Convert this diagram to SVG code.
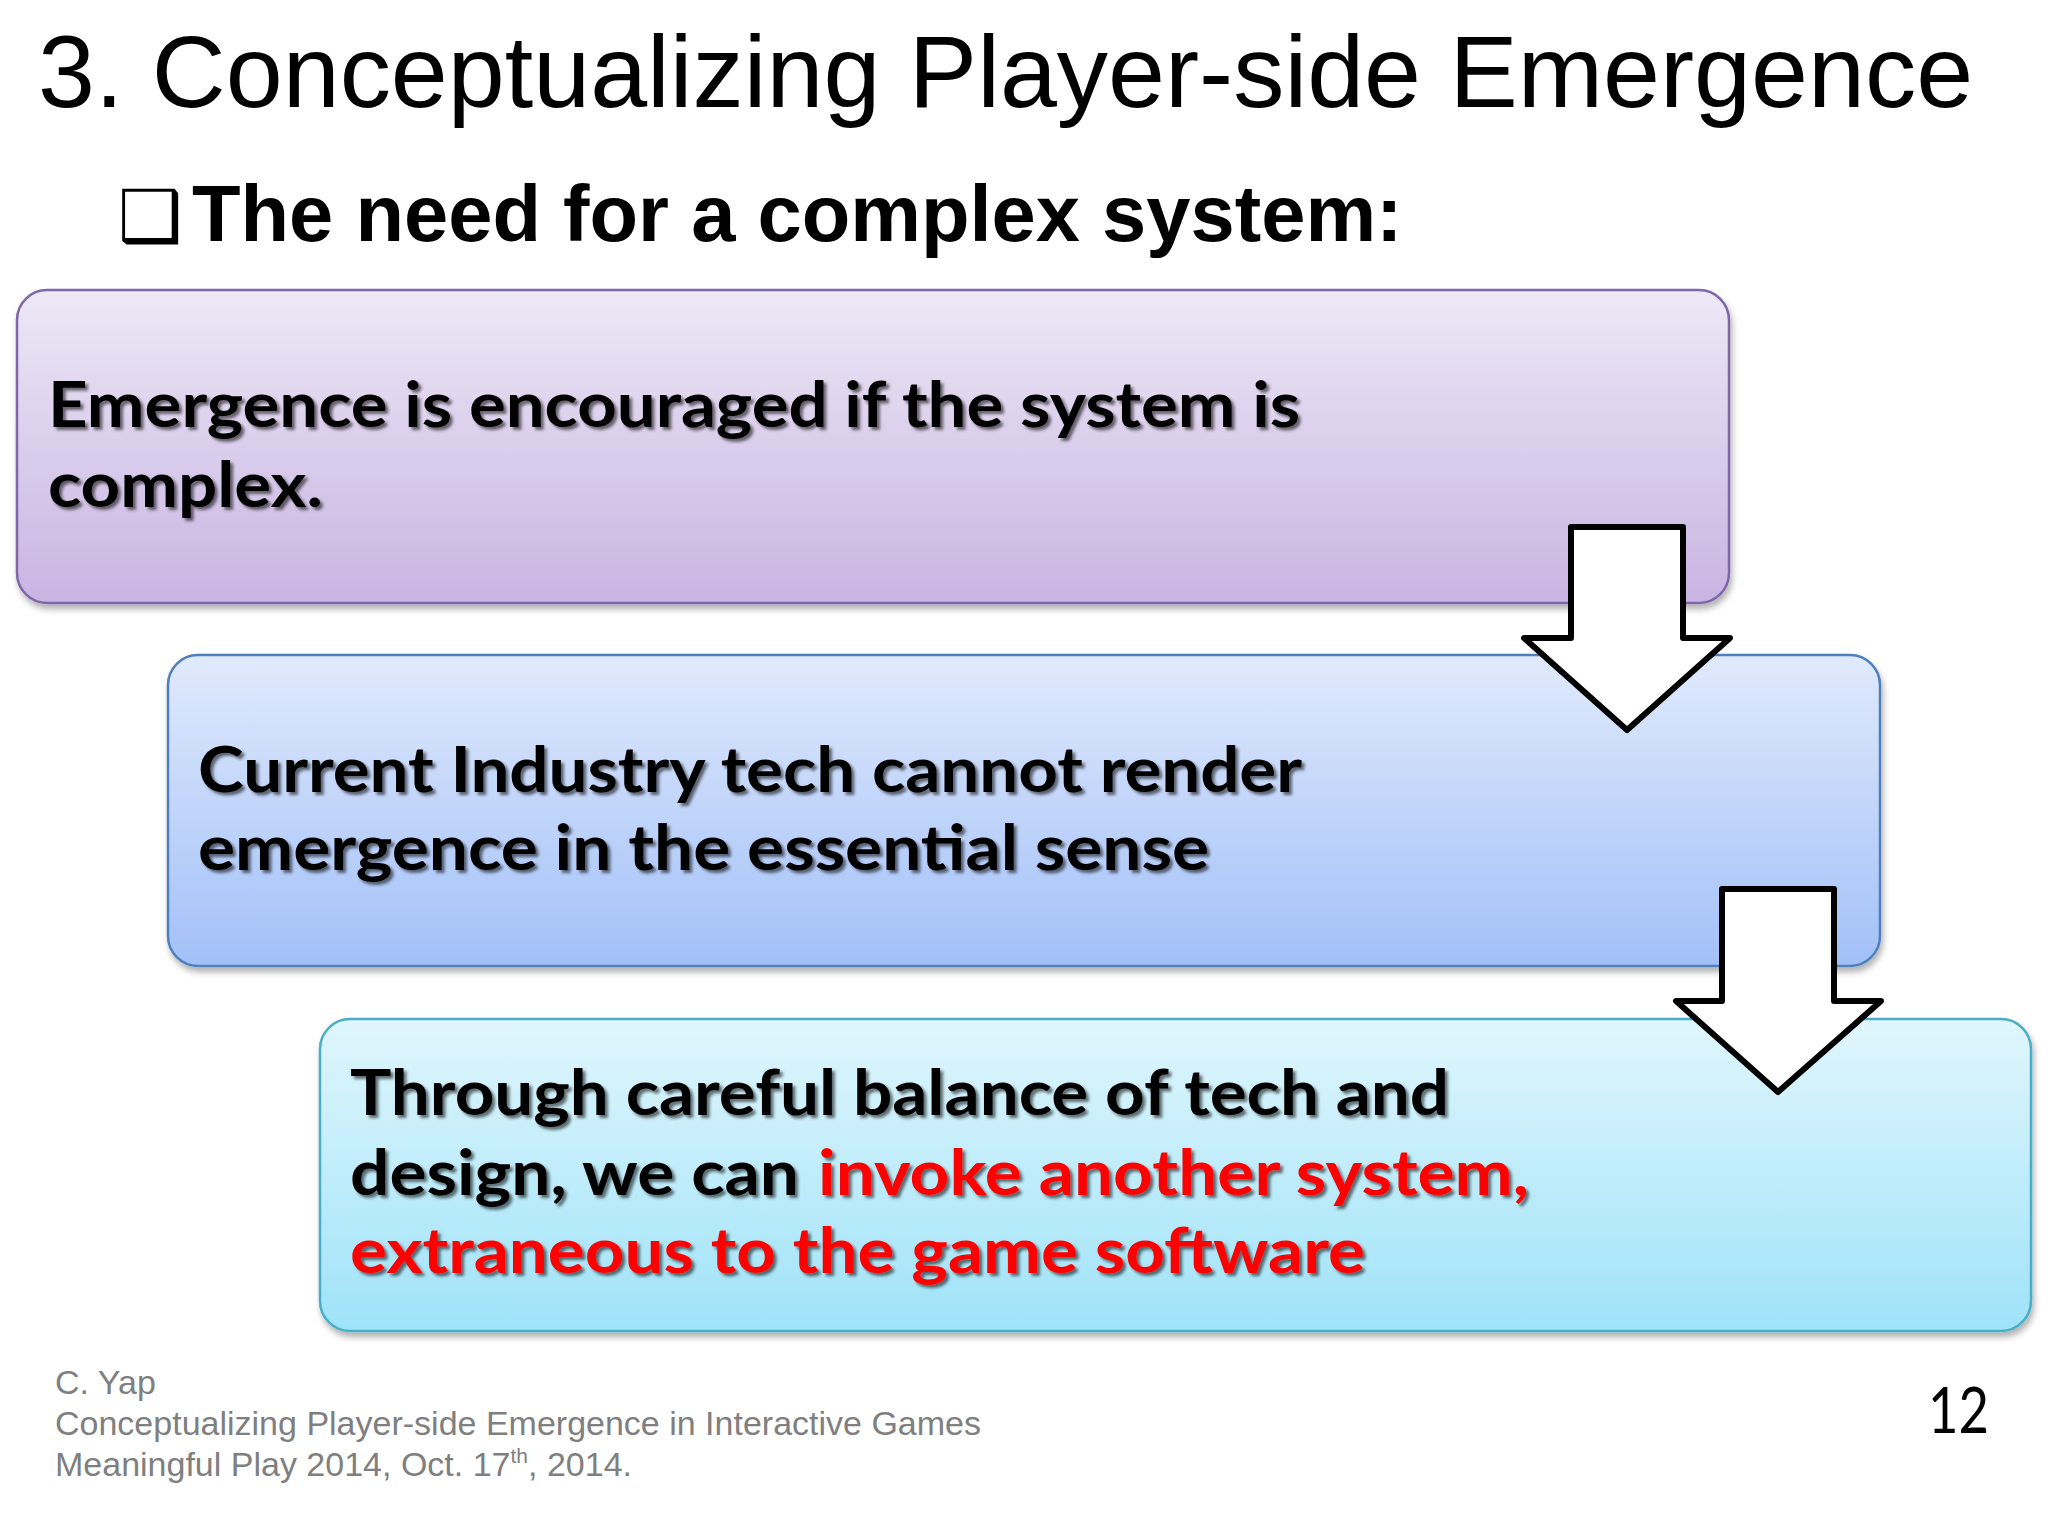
<svg xmlns="http://www.w3.org/2000/svg" width="2048" height="1536" viewBox="0 0 2048 1536">
<defs>
  <linearGradient id="g1" x1="0" y1="0" x2="0" y2="1">
    <stop offset="0" stop-color="#ede8f6"/>
    <stop offset="1" stop-color="#c8b4e2"/>
  </linearGradient>
  <linearGradient id="g2" x1="0" y1="0" x2="0" y2="1">
    <stop offset="0" stop-color="#e0eafc"/>
    <stop offset="1" stop-color="#a2c0f8"/>
  </linearGradient>
  <linearGradient id="g3" x1="0" y1="0" x2="0" y2="1">
    <stop offset="0" stop-color="#e0f6fd"/>
    <stop offset="1" stop-color="#9fe3f8"/>
  </linearGradient>
  <filter id="boxShadow" x="-5%" y="-10%" width="110%" height="125%">
    <feDropShadow dx="2" dy="5" stdDeviation="3" flood-color="#000" flood-opacity="0.3"/>
  </filter>
  <filter id="textShadow" x="-5%" y="-20%" width="110%" height="150%">
    <feDropShadow dx="3" dy="3" stdDeviation="1.8" flood-color="#000" flood-opacity="0.55"/>
  </filter>
</defs>
<style>
  .title { font-family: "Liberation Sans", Arial, sans-serif; font-size: 102.4px; fill: #000; }
  .sub { font-family: "Liberation Sans", Arial, sans-serif; font-weight: bold; font-size: 79.5px; fill: #000; }
  .bullet { font-family: "DejaVu Sans", sans-serif; font-size: 72px; fill: #000; }
  .box { stroke-width: 2.5; filter: url(#boxShadow); }
  .bt { font-family: Lato, "Open Sans", sans-serif; font-weight: bold; font-size: 63px; fill: #000; filter: url(#textShadow); }
  .red { fill: #ff0000; }
  .foot { font-family: "Liberation Sans", Arial, sans-serif; font-size: 34px; fill: #7f7f7f; }
  .pg { font-family: Lato, sans-serif; font-size: 64px; fill: #000; }
  .arrow { fill: #fff; stroke: #000; stroke-width: 6; stroke-linejoin: round; }
</style>
<rect x="0" y="0" width="2048" height="1536" fill="#ffffff"/>

<text class="title" x="38" y="107">3. Conceptualizing Player-side Emergence</text>
<text class="bullet" x="118" y="241">❑</text>
<text class="sub" x="192" y="241">The need for a complex system:</text>

<g id="node1">
  <rect class="box" x="17" y="290" width="1712" height="313" rx="30" ry="30" fill="url(#g1)" stroke="#7e67a9"/>
  <text class="bt" x="48" y="427" textLength="1252" lengthAdjust="spacingAndGlyphs">Emergence is encouraged if the system is</text>
  <text class="bt" x="48" y="507" textLength="275" lengthAdjust="spacingAndGlyphs">complex.</text>
</g>
<g id="node2">
  <rect class="box" x="168" y="655" width="1712" height="311" rx="30" ry="30" fill="url(#g2)" stroke="#4f7fbd"/>
  <text class="bt" x="198" y="792" textLength="1104" lengthAdjust="spacingAndGlyphs">Current Industry tech cannot render</text>
  <text class="bt" x="198" y="870" textLength="1011" lengthAdjust="spacingAndGlyphs">emergence in the essential sense</text>
</g>
<g id="node3">
  <rect class="box" x="320" y="1019" width="1711" height="312" rx="30" ry="30" fill="url(#g3)" stroke="#4aaec8"/>
  <text class="bt" x="350" y="1115" textLength="1099" lengthAdjust="spacingAndGlyphs">Through careful balance of tech and</text>
  <text class="bt" x="350" y="1195" textLength="449" lengthAdjust="spacingAndGlyphs">design, we can</text>
  <text class="bt red" x="818" y="1195" textLength="711" lengthAdjust="spacingAndGlyphs">invoke another system,</text>
  <text class="bt red" x="350" y="1273" textLength="1015" lengthAdjust="spacingAndGlyphs">extraneous to the game software</text>
</g>

<g id="connectors">
  <polygon class="arrow" points="1571,527 1683,527 1683,638 1730,638 1627,730 1524,638 1571,638"/>
  <polygon class="arrow" points="1722,889 1834,889 1834,1001 1881,1001 1778,1092 1676,1001 1722,1001"/>
</g>

<g id="footer">
  <text class="foot" x="55" y="1394">C. Yap</text>
  <text class="foot" x="55" y="1435">Conceptualizing Player-side Emergence in Interactive Games</text>
  <text class="foot" x="55" y="1476">Meaningful Play 2014, Oct. 17<tspan font-size="21" dy="-13">th</tspan><tspan dy="13">, 2014.</tspan></text>
  <text class="pg" x="1928" y="1433" textLength="61" lengthAdjust="spacingAndGlyphs">12</text>
</g>
</svg>
